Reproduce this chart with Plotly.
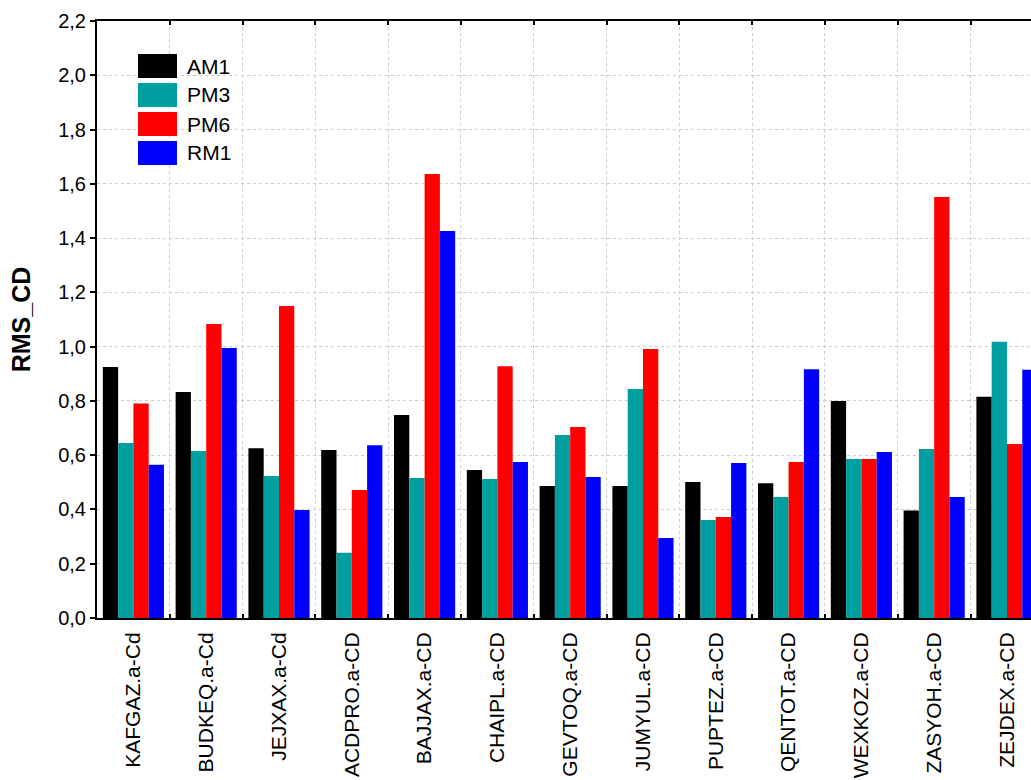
import plotly.graph_objects as go

# RMS_CD per structure for each method
categories = ["KAFGAZ.a-Cd", "BUDKEQ.a-Cd", "JEJXAX.a-Cd", "ACDPRO.a-CD", "BAJJAX.a-CD",
              "CHAIPL.a-CD", "GEVTOQ.a-CD", "JUMYUL.a-CD", "PUPTEZ.a-CD", "QENTOT.a-CD",
              "WEXKOZ.a-CD", "ZASYOH.a-CD", "ZEJDEX.a-CD"]
am1 = [0.925, 0.833, 0.626, 0.619, 0.748, 0.545, 0.486, 0.486, 0.501, 0.497, 0.800, 0.396, 0.815]
pm3 = [0.645, 0.615, 0.523, 0.240, 0.516, 0.512, 0.674, 0.844, 0.361, 0.446, 0.586, 0.623, 1.018]
pm6 = [0.790, 1.083, 1.150, 0.472, 1.636, 0.928, 0.704, 0.991, 0.372, 0.575, 0.586, 1.551, 0.641]
rm1 = [0.565, 0.995, 0.398, 0.637, 1.426, 0.575, 0.520, 0.295, 0.571, 0.917, 0.612, 0.446, 0.915]

series = [("AM1", am1, "#000000"), ("PM3", pm3, "#009f9f"),
          ("PM6", pm6, "#ff0000"), ("RM1", rm1, "#0000ff")]

FONT = "Liberation Sans, Arial, sans-serif"
W, H = 1031, 780
L, R, T, B = 97, 0, 21, 162

fig = go.Figure()
for name, vals, col in series:
    fig.add_trace(go.Bar(x=categories, y=vals, name=name, marker_color=col,
                         marker_line_width=0, showlegend=False))

# legend drawn as swatches + labels near the top-left of the plot
pw, ph = W - L - R, H - T - B
def px(x):
    return (x - L) / pw
def py(y):
    return (H - B - y) / ph

shapes = []
annotations = []
for i, (name, vals, col) in enumerate(series):
    top = 54 + i * 29
    shapes.append(dict(type="rect", xref="paper", yref="paper",
                       x0=px(138), x1=px(177), y0=py(top), y1=py(top + 24),
                       fillcolor=col, line=dict(width=0), layer="above"))
    annotations.append(dict(xref="paper", yref="paper", x=px(185), y=py(top + 12),
                            text=name, showarrow=False, xanchor="left", yanchor="middle",
                            font=dict(family=FONT, size=21, color="black")))

fig.update_layout(
    width=W, height=H,
    margin=dict(l=L, r=R, t=T, b=B, pad=0),
    paper_bgcolor="white", plot_bgcolor="white",
    barmode="group", bargap=0.16, bargroupgap=0,
    separators=", ",
    font=dict(family=FONT, color="black"),
    shapes=shapes, annotations=annotations,
)
fig.update_xaxes(
    range=[-0.5, 12.33], automargin=False,
    tickangle=-90, tickfont=dict(family=FONT, size=21, color="black"),
    tickson="boundaries", ticks="inside", ticklen=4, tickwidth=2, tickcolor="black",
    showgrid=True, gridcolor="#cccccc", griddash="3px,3px", gridwidth=1,
    showline=True, linecolor="black", linewidth=2, mirror="ticks",
    ticklabelstandoff=4,
)
fig.update_yaxes(
    range=[0, 2.2], dtick=0.2, tick0=0, tickformat=".1f", automargin=False,
    tickfont=dict(family=FONT, size=20, color="black"),
    ticks="outside", ticklen=5, tickwidth=2, tickcolor="black",
    showgrid=True, gridcolor="#cccccc", griddash="3px,3px", gridwidth=1,
    showline=True, linecolor="black", linewidth=2, mirror=False,
    zeroline=False,
    title=dict(text="<b>RMS_CD</b>", font=dict(family=FONT, size=25, color="black"), standoff=20),
)

fig.write_html("out.html")
